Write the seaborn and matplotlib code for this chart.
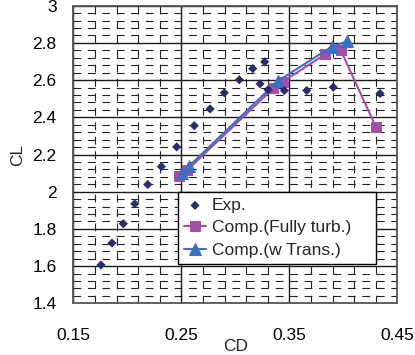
import numpy as np
import pandas as pd
import seaborn as sns
import matplotlib.pyplot as plt
from matplotlib.ticker import FixedLocator, MultipleLocator

# experiment
exp_cd = [0.1756, 0.1858, 0.1963, 0.2069, 0.2189, 0.2315, 0.2457, 0.2620, 0.2766, 0.2898,
          0.3037, 0.3161, 0.3272, 0.3229, 0.3303, 0.3454, 0.3661, 0.3907, 0.4340]
exp_cl = [1.606, 1.724, 1.828, 1.935, 2.039, 2.135, 2.241, 2.355, 2.445, 2.532,
          2.602, 2.662, 2.698, 2.580, 2.548, 2.544, 2.544, 2.562, 2.528]

# computation, fully turbulent
turb_cd = [0.2479, 0.2553, 0.3350, 0.3437, 0.3833, 0.3976, 0.4303]
turb_cl = [2.083, 2.115, 2.555, 2.591, 2.739, 2.761, 2.346]

# computation, with transition
trans_cd = [0.2506, 0.2571, 0.3393, 0.3891, 0.4036]
trans_cl = [2.098, 2.137, 2.595, 2.779, 2.809]

sns.set_theme(style="white")
plt.rcParams['font.family'] = ['Liberation Sans', 'DejaVu Sans']

fig = plt.figure(figsize=(4.15, 3.55), dpi=100)
ax = fig.add_axes([0.1767, 0.1456, 0.7807, 0.8383])

sns.scatterplot(x=exp_cd, y=exp_cl, marker='D', s=22, color='#2B2C6A',
                edgecolor='none', label='Exp.', ax=ax, zorder=4)
sns.lineplot(x=turb_cd, y=turb_cl, sort=False, estimator=None, marker='s',
             markersize=7, color='#A44FA6', markeredgecolor='#A44FA6', linewidth=1.5,
             label='Comp.(Fully turb.)', ax=ax, zorder=3)
sns.lineplot(x=trans_cd, y=trans_cl, sort=False, estimator=None, marker='^',
             markersize=8, color='#3E6EC2', markeredgecolor='#3E6EC2', linewidth=1.5,
             label='Comp.(w Trans.)', ax=ax, zorder=3)

ax.set_xlim(0.15, 0.45)
ax.set_ylim(1.4, 3.0)
ax.xaxis.set_major_locator(FixedLocator([0.15, 0.25, 0.35, 0.45]))
ax.xaxis.set_minor_locator(FixedLocator(np.arange(0.17, 0.45, 0.02)))
ax.yaxis.set_major_locator(MultipleLocator(0.2))
ax.yaxis.set_minor_locator(MultipleLocator(0.04))
ax.set_yticklabels([f"{v:g}" for v in ax.get_yticks()])

ax.grid(which='major', color='#1a1a1a', linewidth=1.0, linestyle='-')
ax.grid(which='minor', color='#222222', linewidth=0.8, linestyle=(0, (7, 6)))
ax.set_axisbelow(True)
for s in ax.spines.values():
    s.set_color('#555555')
    s.set_linewidth(1.3)

ax.tick_params(which='both', length=0)
ax.tick_params(axis='x', pad=18, labelsize=12.5, colors='black')
ax.tick_params(axis='y', pad=12, labelsize=12.5, colors='black')
ax.set_xlabel('CD', fontsize=12.5, labelpad=-3)
ax.set_ylabel('CL', fontsize=12.5, labelpad=5)

leg = ax.legend(loc='upper left', bbox_to_anchor=(0.322, 0.375, 0.611, 0.0),
                mode='expand', fontsize=12.5, frameon=True, fancybox=False,
                framealpha=1, edgecolor='black', handlelength=1.3,
                handletextpad=0.3, borderaxespad=0, labelspacing=0.42,
                borderpad=0.35)
leg.get_frame().set_linewidth(1.0)

fig.savefig('out.png', dpi=100)
